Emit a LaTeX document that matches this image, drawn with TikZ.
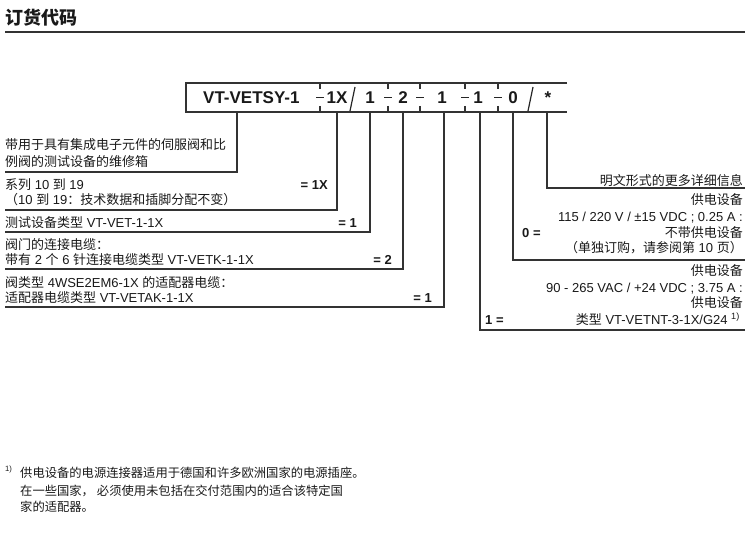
\documentclass[tikz,border=0pt]{standalone}
\usepackage{fontspec}
\setmainfont{Liberation Sans}
\newfontfamily\cjk{Noto Sans CJK SC}
\newcommand\zh[1]{{\cjk #1}}
\begin{document}
\begin{tikzpicture}[x=1pt,y=-1pt,
  txt/.style={inner sep=0pt, font=\fontsize{13}{15}\selectfont, text=black!90},
  lt/.style={txt, anchor=base west},
  rt/.style={txt, anchor=base east},
  eqlbl/.style={txt, font=\fontsize{13}{15}\selectfont\bfseries},
  codelbl/.style={inner sep=0pt, anchor=base, text=black!90, font=\fontsize{17}{20}\selectfont\bfseries},
  ln/.style={line width=1.1pt, draw=black!80},
  fnt/.style={lt, font=\fontsize{12.3}{15}\selectfont}]
\useasboundingbox (0,0) rectangle (750,548);

% title and rule
\node[anchor=base west, inner sep=0pt, text=black!90, font=\fontsize{18}{20}\selectfont\cjk\bfseries] (title) at (5,25) {订货代码};
\draw[line width=1.8pt, black!80] (5,32) -- (745,32);

% code box
\draw[ln] (567,83) -| (186,112) -- (567,112);
\node[codelbl, anchor=base west] (c0) at (203,104) {VT-VETSY-1};
\node[codelbl] (c1) at (337,104) {1X};
\node[codelbl] (c2) at (370,104) {1};
\node[codelbl] (c3) at (403,104) {2};
\node[codelbl] (c4) at (442,104) {1};
\node[codelbl] (c5) at (478,104) {1};
\node[codelbl] (c6) at (513,104) {0};
\node[codelbl] (c7) at (548,104) {*};
\foreach \x in {320,388,420,465,498} {
  \draw[ln] (\x,83) -- (\x,89) (\x,106) -- (\x,112);
  \draw[line width=1.3pt, black!85] (\x-4,97.5) -- (\x+4,97.5);
}
\draw[line width=1.2pt, black!85] (355,87) -- (350,111);
\draw[line width=1.2pt, black!85] (533,87) -- (528,111);

% drop points and ends
\coordinate (d0) at (237,112); \coordinate (e0) at (5,172);
\coordinate (d1) at (337,112); \coordinate (e1) at (5,210);
\coordinate (d2) at (370,112); \coordinate (e2) at (5,232);
\coordinate (d3) at (403,112); \coordinate (e3) at (5,269);
\coordinate (d4) at (444,112); \coordinate (e4) at (5,307);
\coordinate (d5) at (480,112); \coordinate (e5) at (745,330);
\coordinate (d6) at (513,112); \coordinate (e6) at (745,260);
\coordinate (d7) at (547,112); \coordinate (e7) at (745,188);
\foreach \i in {0,...,7} { \draw[ln] (d\i) |- (e\i); }

% left texts
\node[lt] (t1a) at (5,150) {\zh{带用于具有集成电子元件的伺服阀和比}};
\node[lt] (t1b) at (5,166.5) {\zh{例阀的测试设备的维修箱}};
\node[lt] (t2a) at (5,190) {\zh{系列} 10 \zh{到} 19};
\node[lt] (t2b) at (5,205) {\zh{（}10 \zh{到} 19\zh{：技术数据和插脚分配不变）}};
\node[eqlbl, anchor=base east] (q1) at (328,190) {= 1X};
\node[lt] (t3) at (5,228) {\zh{测试设备类型} VT-VET-1-1X};
\node[eqlbl, anchor=base east] (q2) at (357,228) {= 1};
\node[lt] (t4a) at (5,250) {\zh{阀门的连接电缆：}};
\node[lt] (t4b) at (5,265) {\zh{带有} 2 \zh{个} 6 \zh{针连接电缆类型} VT-VETK-1-1X};
\node[eqlbl, anchor=base east] (q3) at (392,265) {= 2};
\node[lt] (t5a) at (5,287.5) {\zh{阀类型} 4WSE2EM6-1X \zh{的适配器电缆：}};
\node[lt] (t5b) at (5,302.5) {\zh{适配器电缆类型} VT-VETAK-1-1X};
\node[eqlbl, anchor=base east] (q4) at (432,302.5) {= 1};

% right texts
\node[rt] (r0) at (743,185.5) {\zh{明文形式的更多详细信息}};
\node[rt] (r1a) at (743,205) {\zh{供电设备}};
\node[rt] (r1b) at (743,221.5) {115 / 220 V / ±15 VDC ; 0.25 A :};
\node[rt] (r1c) at (743,237.5) {\zh{不带供电设备}};
\node[rt] (r1d) at (743,253) {\zh{（单独订购，请参阅第} 10 \zh{页）}};
\node[eqlbl, anchor=base west] (q6) at (522,237.5) {0 =};
\node[rt] (r2a) at (743,276) {\zh{供电设备}};
\node[rt] (r2b) at (743,292) {90 - 265 VAC / +24 VDC ; 3.75 A :};
\node[rt] (r2c) at (743,308) {\zh{供电设备}};
\node[rt] (r2d) at (740,324) {\zh{类型} VT-VETNT-3-1X/G24 \textsuperscript{1)}};
\node[eqlbl, anchor=base west] (q5) at (485,324) {1 =};

% footnote
\node[lt, font=\fontsize{11}{13}\selectfont] (fnm) at (5,475) {\textsuperscript{1)}};
\node[fnt] (fn1) at (20,477) {\zh{供电设备的电源连接器适用于德国和许多欧洲国家的电源插座。}};
\node[fnt] (fn2) at (20,495) {\zh{在一些国家，\hspace{3pt}必须使用未包括在交付范围内的适合该特定国}};
\node[fnt] (fn3) at (20,511) {\zh{家的适配器。}};
\end{tikzpicture}
\end{document}
